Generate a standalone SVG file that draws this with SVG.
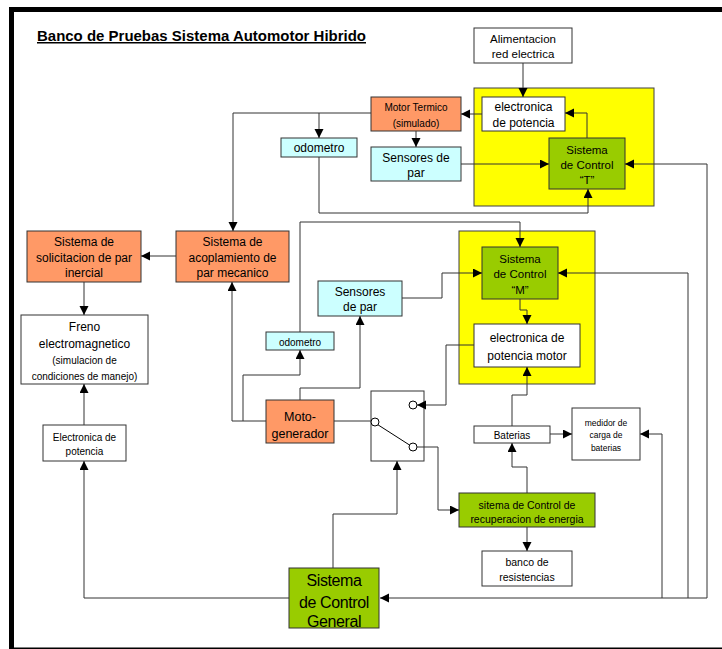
<svg xmlns="http://www.w3.org/2000/svg" width="722" height="649" viewBox="0 0 722 649">
<defs>
<marker id="ah" markerUnits="userSpaceOnUse" markerWidth="10" markerHeight="10" refX="9" refY="4.5" orient="auto">
<path d="M0,0 L9,4.5 L0,9 z" fill="#000"/>
</marker>
<style>
text{font-family:"Liberation Sans",Arial,sans-serif;fill:#000;text-anchor:middle}
.b{stroke:#333;stroke-width:1}
.or{fill:#FF9966}
.cy{fill:#CCFFFF}
.gr{fill:#99CC00}
.wh{fill:#fff}
.ye{fill:#FFFF00;stroke:#404040;stroke-width:1}
.c path{fill:none;stroke:#333;stroke-width:1;marker-end:url(#ah)}
.c path.n{marker-end:none}
.sw{fill:#fff;stroke:#000;stroke-width:1}
</style>
</defs>
<rect width="722" height="649" fill="#fff"/>
<g id="frame">
<rect x="9" y="7" width="5" height="642" fill="#000"/>
<rect x="9" y="7" width="713" height="5" fill="#000"/>
<rect x="9" y="647.5" width="713" height="1.5" fill="#000"/>
</g>
<g id="title">
<text x="37" y="41" style="text-anchor:start;font-weight:bold;font-size:15px;text-decoration:underline" textLength="329" lengthAdjust="spacingAndGlyphs">Banco de Pruebas Sistema Automotor Hibrido</text>
</g>
<rect id="yellowT" class="ye" x="474" y="88" width="180" height="118"/>
<rect id="yellowM" class="ye" x="459" y="231" width="136" height="153"/>
<g id="alimentacion">
<rect class="b wh" x="474" y="28" width="98" height="35"/>
<text x="523" y="43" font-size="11.5">Alimentacion</text>
<text x="523" y="58" font-size="11.5">red electrica</text>
</g>
<g id="electronicaT">
<rect class="b wh" x="482" y="97" width="83" height="34"/>
<text x="523.5" y="111" font-size="12">electronica</text>
<text x="523.5" y="127" font-size="12">de potencia</text>
</g>
<g id="controlT">
<rect class="b gr" x="549" y="138" width="76" height="51"/>
<text x="587" y="154" font-size="11.5">Sistema</text>
<text x="587" y="169" font-size="11.5">de Control</text>
<text x="587" y="184" font-size="11.5">“T”</text>
</g>
<g id="motorTermico">
<rect class="b or" x="371" y="97" width="90" height="34"/>
<text x="416" y="110.5" font-size="10">Motor Termico</text>
<text x="416" y="126.5" font-size="10">(simulado)</text>
</g>
<g id="sensoresT">
<rect class="b cy" x="371" y="147" width="90" height="34"/>
<text x="416" y="162" font-size="12">Sensores de</text>
<text x="416" y="177" font-size="12">par</text>
</g>
<g id="odometroT">
<rect class="b cy" x="281" y="138" width="76" height="19"/>
<text x="319" y="152" font-size="12">odometro</text>
</g>
<g id="acoplamiento">
<rect class="b or" x="176" y="231" width="113" height="51"/>
<text x="232.5" y="246" font-size="12">Sistema de</text>
<text x="232.5" y="261.5" font-size="12">acoplamiento de</text>
<text x="232.5" y="277" font-size="12">par mecanico</text>
</g>
<g id="solicitacion">
<rect class="b or" x="27" y="231" width="114" height="51"/>
<text x="84" y="246" font-size="12">Sistema de</text>
<text x="84" y="261.5" font-size="12">solicitacion de par</text>
<text x="84" y="277" font-size="12">inercial</text>
</g>
<g id="freno">
<rect class="b wh" x="21" y="315" width="127" height="69"/>
<text x="84.5" y="331" font-size="12">Freno</text>
<text x="84.5" y="348" font-size="12">electromagnetico</text>
<text x="84.5" y="363.5" font-size="10">(simulacion de</text>
<text x="84.5" y="379.5" font-size="10">condiciones de manejo)</text>
</g>
<g id="electronicaF">
<rect class="b wh" x="43" y="425" width="83" height="36"/>
<text x="84.5" y="440.5" font-size="10">Electronica de</text>
<text x="84.5" y="454.5" font-size="10">potencia</text>
</g>
<g id="odometroM">
<rect class="b cy" x="266" y="332" width="68" height="18"/>
<text x="300" y="345.5" font-size="10">odometro</text>
</g>
<g id="sensoresM">
<rect class="b cy" x="318" y="281" width="84" height="35"/>
<text x="360" y="296" font-size="12">Sensores</text>
<text x="360" y="311" font-size="12">de par</text>
</g>
<g id="controlM">
<rect class="b gr" x="482" y="247" width="76" height="52"/>
<text x="520" y="263" font-size="11.5">Sistema</text>
<text x="520" y="278" font-size="11.5">de Control</text>
<text x="520" y="293.5" font-size="11.5">“M”</text>
</g>
<g id="electronicaM">
<rect class="b wh" x="474" y="324" width="106" height="43"/>
<text x="527" y="342" font-size="12">electronica de</text>
<text x="527" y="360" font-size="12">potencia motor</text>
</g>
<g id="motogenerador">
<rect class="b or" x="266" y="400" width="68" height="43"/>
<text x="300" y="420.5" font-size="12.5">Moto-</text>
<text x="300" y="437.5" font-size="12.5">generador</text>
</g>
<g id="switch">
<rect class="b wh" x="371" y="391" width="53" height="70"/>
<line x1="377.5" y1="424.5" x2="409.5" y2="445" stroke="#000" stroke-width="1"/>
<circle class="sw" cx="375" cy="422" r="4"/>
<circle class="sw" cx="413" cy="405" r="4"/>
<circle class="sw" cx="413" cy="447" r="4"/>
</g>
<g id="baterias">
<rect class="b wh" x="474" y="426" width="76" height="17"/>
<text x="512" y="438.5" font-size="10">Baterias</text>
</g>
<g id="medidor">
<rect class="b wh" x="572" y="408" width="68" height="52"/>
<text x="606" y="426" font-size="8.5">medidor de</text>
<text x="606" y="438" font-size="8.5">carga de</text>
<text x="606" y="451" font-size="8.5">baterias</text>
</g>
<g id="recuperacion">
<rect class="b gr" x="459" y="493" width="136" height="34"/>
<text x="527" y="508.5" font-size="10.5">sitema de Control de</text>
<text x="527" y="522.5" font-size="10.5">recuperacion de energia</text>
</g>
<g id="banco">
<rect class="b wh" x="482" y="551" width="90" height="35"/>
<text x="527" y="565.5" font-size="10.5">banco de</text>
<text x="527" y="580.5" font-size="10.5">resistencias</text>
</g>
<g id="controlGeneral">
<rect class="b gr" x="289" y="568" width="90" height="60"/>
<text x="334" y="585.5" font-size="16" letter-spacing="-0.4">Sistema</text>
<text x="334" y="607.5" font-size="16" letter-spacing="-0.4">de Control</text>
<text x="334" y="626.5" font-size="16" letter-spacing="-0.4">General</text>
</g>
<g class="c" id="connectors">
<path d="M523,63 V97"/>
<path d="M482,114 H461"/>
<path d="M587,138 V113 H565"/>
<path d="M461,164 H549"/>
<path d="M371,113 H233 V231"/>
<path d="M319,113 V138"/>
<path d="M416,131 V147"/>
<path d="M319,157 V213 H588 V189"/>
<path d="M300,332 V222 H520 V247"/>
<path d="M402,298 H442 V273 H482"/>
<path d="M520,299 V310 H527 V324"/>
<path d="M474,345 H446 V405 H417"/>
<path d="M512,426 V395 H527 V367"/>
<path d="M550,434 H572"/>
<path d="M527,493 V467 H512 V443"/>
<path d="M417,447 H438 V510 H459"/>
<path d="M527,527 V551"/>
<path d="M333,568 V514 H397 V461"/>
<path d="M289,598 H84 V461"/>
<path d="M84,425 V384"/>
<path d="M84,282 V315"/>
<path d="M176,256 H141"/>
<path d="M266,421 H232 V282"/>
<path d="M243,421 V375 H300 V350"/>
<path d="M300,400 V388 H360 V316"/>
<path class="n" d="M334,421 H371"/>
<path d="M707,598 V164 H625"/>
<path d="M688,598 V273 H558"/>
<path d="M662,598 V434 H640"/>
<path d="M707,598 H380"/>
</g>
</svg>
